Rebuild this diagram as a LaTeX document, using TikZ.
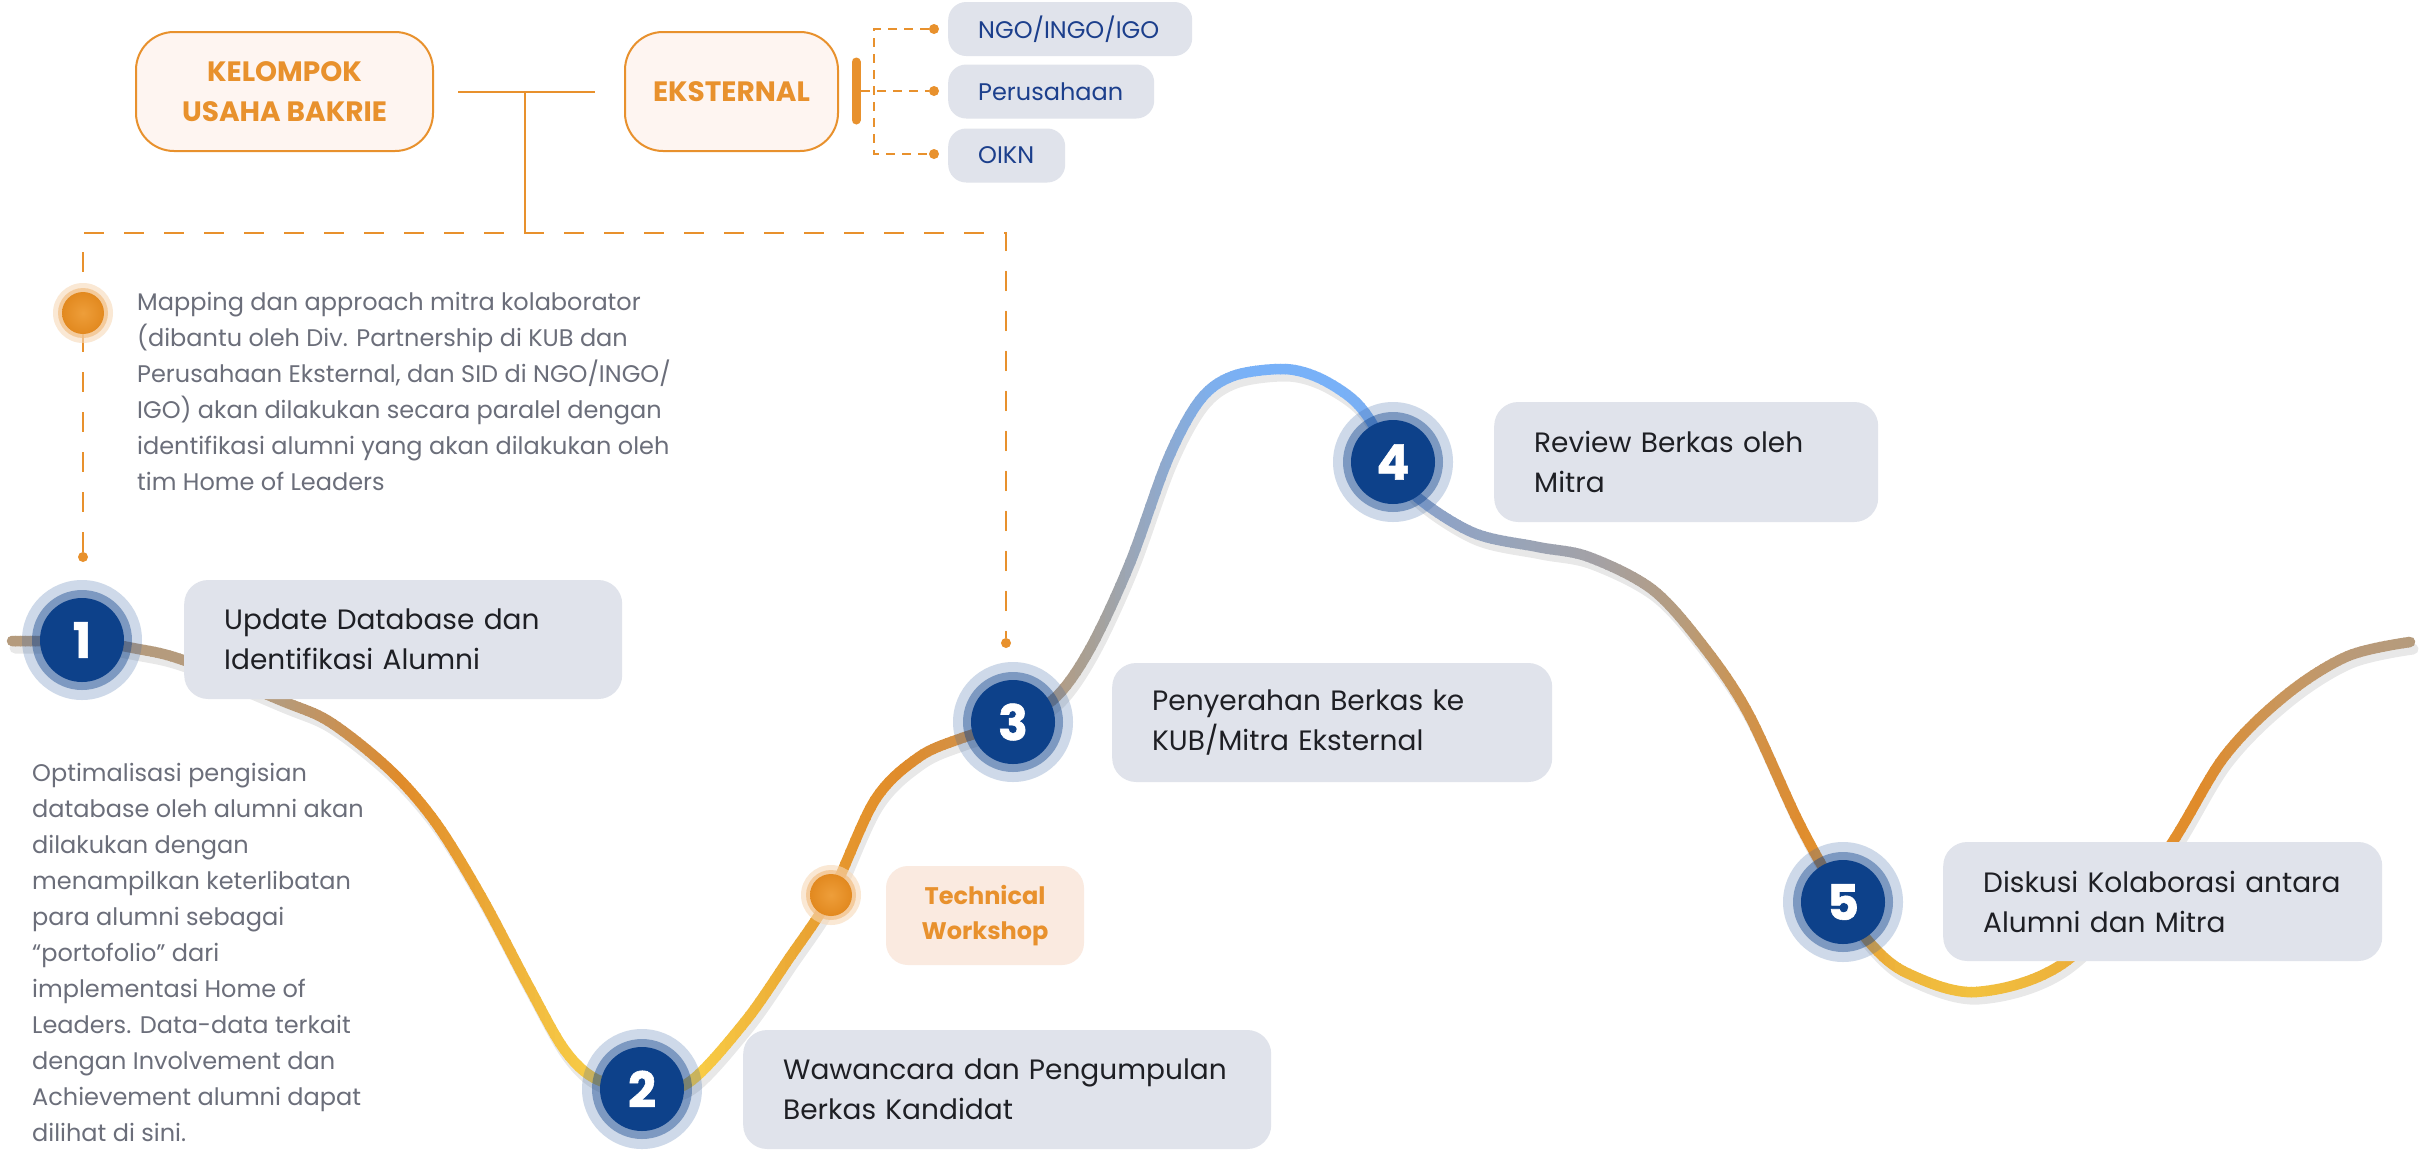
\documentclass[tikz,border=0pt]{standalone}
\usepackage{fontspec}
\setmainfont{Poppins}
\usepackage{graphicx}
\definecolor{org}{HTML}{E8912D}
\definecolor{kubfill}{HTML}{FEF5F1}
\definecolor{wsfill}{HTML}{FAEAE0}
\definecolor{pillfill}{HTML}{E0E3EB}
\definecolor{pilltext}{HTML}{1C3F8C}
\definecolor{graytxt}{HTML}{6B6E7A}
\definecolor{steptxt}{HTML}{1E1F24}
\definecolor{navy}{HTML}{0D418A}
\definecolor{halob}{HTML}{3F6AA8}
\definecolor{ohalo}{HTML}{F7D9B8}
\definecolor{oring}{HTML}{F2BF85}
\definecolor{ocoreA}{HTML}{EE9E3A}
\definecolor{ocoreB}{HTML}{E2891F}
% curve colour stops
\definecolor{s0}{HTML}{B59B7D}\definecolor{s1}{HTML}{B59B7D}\definecolor{s2}{HTML}{C5925A}
\definecolor{s3}{HTML}{E08B2A}\definecolor{s4}{HTML}{E9A233}\definecolor{s5}{HTML}{F5C543}
\definecolor{s6}{HTML}{FAD249}\definecolor{s7}{HTML}{F8CC45}\definecolor{s8}{HTML}{EDAE37}
\definecolor{s9}{HTML}{E6982E}\definecolor{s10}{HTML}{E08B2A}\definecolor{s11}{HTML}{D39146}
\definecolor{s12}{HTML}{C9965C}\definecolor{s13}{HTML}{B89B7C}\definecolor{s14}{HTML}{A8A095}
\definecolor{s15}{HTML}{9BA6B6}\definecolor{s16}{HTML}{8CAAD2}\definecolor{s17}{HTML}{7EAFEC}
\definecolor{s18}{HTML}{78B1F8}\definecolor{s19}{HTML}{78B1F8}\definecolor{s20}{HTML}{7FADEB}
\definecolor{s21}{HTML}{8DA3C8}\definecolor{s22}{HTML}{99A4B8}\definecolor{s23}{HTML}{A4A1A4}
\definecolor{s24}{HTML}{B69C7E}\definecolor{s25}{HTML}{CC9452}\definecolor{s26}{HTML}{DF8C2E}
\definecolor{s27}{HTML}{E6982F}\definecolor{s28}{HTML}{EEB63C}\definecolor{s29}{HTML}{F2C13F}
\definecolor{s30}{HTML}{EDB23B}\definecolor{s31}{HTML}{E39230}\definecolor{s32}{HTML}{E08B2A}
\definecolor{s33}{HTML}{C9965C}\definecolor{s34}{HTML}{B99A78}\definecolor{s35}{HTML}{B59B7D}
\tikzset{
  curveline/.style={line width=10.5pt, line cap=round},
  shadowline/.style={line width=11pt, line cap=round, black, opacity=0.09, transform canvas={shift={(3pt,-7pt)}}},
  orgline/.style={draw=org, line width=2pt},
  bigdash/.style={draw=org, line width=2pt, dash pattern=on 20pt off 20pt},
  smalldash/.style={draw=org, line width=2pt, dash pattern=on 9pt off 7pt},
  enddot/.style={circle, fill=org, minimum size=10pt, inner sep=0pt},
  kubbox/.style={draw=org, line width=2pt, fill=kubfill, rounded corners=38pt, minimum width=297pt, minimum height=119pt, align=center, text=org, font=\fontsize{28}{40}\selectfont\bfseries, inner sep=0pt},
  pill/.style={fill=pillfill, rounded corners=18pt, minimum height=54pt, inner xsep=30pt, inner ysep=0pt, text=pilltext, font=\fontsize{24}{30}\selectfont, anchor=west},
  stepbox/.style={fill=pillfill, rounded corners=24pt, minimum height=119pt, inner xsep=40pt, inner ysep=0pt, align=left, text=steptxt, font=\fontsize{28}{40}\selectfont},
  graytext/.style={text=graytxt, align=left, inner sep=0pt, anchor=west, font=\fontsize{24}{36}\selectfont},
  wsbox/.style={fill=wsfill, rounded corners=22pt, minimum width=198pt, minimum height=99pt, align=center, text=org, font=\fontsize{24}{35}\selectfont\bfseries, inner sep=0pt},
  halo/.style={fill=halob, opacity=0.25},
  ring/.style={fill=navy, opacity=0.42},
  numc/.style={circle, fill=navy, minimum size=84pt, inner sep=0pt, text=white, font=\fontsize{49}{49}\selectfont\bfseries\addfontfeature{FakeBold=1.2}},
  ohal/.style={fill=ohalo, opacity=0.6},
  orng/.style={fill=oring, opacity=0.7},
  ocore/.style={circle, inner color=ocoreA, outer color=ocoreB, minimum size=42pt, inner sep=0pt},
}
\newcommand\curveAll{plot[smooth,tension=0.55] coordinates {(12,641) (50,641) (c1) (133,648) (183,660) (280,700) (330,722) (390,770) (436,823) (482,898) (528,985) (564,1049) (596,1079) (c2) (688,1083) (744,1023) (788,960) (w) (875,800) (919,757) (962,738) (c3) (1056,697) (1091,647) (1130,563) (1168,459) (1200,400) (1233,376) (1283,369) (1317,377) (1350,397) (1370,420) (c4) (1417,497) (1474,533) (1538,547) (1589,557) (1653,590) (1704,647) (1748,713) (1799,823) (c5) (1870,943) (1907,973) (1976,992) (2065,962) (2160,860) (2224,757) (2286,695) (2348,656) (2410,642)}}
\begin{document}
\begin{tikzpicture}[x=1pt,y=-1pt]
\useasboundingbox (0,0) rectangle (2422,1152);
\fill[white] (0,0) rectangle (2422,1152);
% anchor points
\coordinate (c1) at (82,640);
\coordinate (c2) at (642,1089);
\coordinate (c3) at (1013,722);
\coordinate (c4) at (1393,462);
\coordinate (c5) at (1843,902);
\coordinate (w) at (831,895);
\coordinate (tdot) at (83,313);
% top group
\node[kubbox] (kub) at (284.5,91.5) {KELOMPOK\\USAHA BAKRIE};
\node[kubbox, minimum width=213pt] (ext) at (731.5,91.5) {EKSTERNAL};
\draw[orgline, shorten <=24pt, shorten >=29pt] (kub) -- (ext);
\coordinate (j) at (525,91.5);
\coordinate (jb) at (525,233);
\draw[orgline] (j) -- (jb);
\coordinate (tl) at (83,233);
\coordinate (tr) at (1006,233);
\node[enddot] (dl) at (83,557) {};
\node[enddot] (dr) at (1006,643) {};
\draw[bigdash] (dl) -- (tl) -- (tr) -- (dr);
% bracket to partners
\draw[org, line width=9pt, line cap=round] (856,62) -- (856,120);
\coordinate (b1) at (874,29);
\coordinate (b3) at (874,154);
\coordinate (bm) at (861,91);
\node[enddot] (d1) at (934,29) {};
\node[enddot] (d2) at (934,91) {};
\node[enddot] (d3) at (934,154) {};
\draw[smalldash] (d1) -- (b1) -- (b3) -- (d3);
\draw[smalldash] (bm) -- (d2);
\node[pill] (p1) at (948,29) {\makebox[184pt][l]{NGO/INGO/IGO}};
\node[pill] (p2) at (948,91.5) {\makebox[146pt][l]{Perusahaan}};
\node[pill] (p3) at (948,155.5) {\makebox[57pt][l]{OIKN}};
% top orange dot and text
\fill[ohal] (tdot) circle (30pt);
\fill[orng] (tdot) circle (25pt);
\node[ocore] (od1) at (tdot) {};
\node[graytext] (mapt) at (137,391) {Mapping dan approach mitra kolaborator\\(dibantu oleh Div. Partnership di KUB dan\\Perusahaan Eksternal, dan SID di NGO/INGO/\\IGO) akan dilakukan secara paralel dengan\\identifikasi alumni yang akan dilakukan oleh\\tim Home of Leaders};
\node[graytext] (optt) at (32,952) {Optimalisasi pengisian\\database oleh alumni akan\\dilakukan dengan\\menampilkan keterlibatan\\para alumni sebagai\\“portofolio” dari\\implementasi Home of\\Leaders. Data-data terkait\\dengan Involvement dan\\Achievement alumni dapat\\dilihat di sini.};
% curve shadow
\draw[shadowline] \curveAll;
% curve with colour running along it (vertical strips)
\foreach \xa/\ca/\xb/\cb in {5/s0/280/s1, 280/s1/330/s2, 330/s2/400/s3, 400/s3/470/s4, 470/s4/560/s5, 560/s5/642/s6, 642/s6/700/s7, 700/s7/780/s8, 780/s8/840/s9, 840/s9/900/s10, 900/s10/960/s11, 960/s11/1000/s12, 1000/s12/1040/s13, 1040/s13/1090/s14, 1090/s14/1130/s15, 1130/s15/1170/s16, 1170/s16/1210/s17, 1210/s17/1250/s18, 1250/s18/1340/s19, 1340/s19/1393/s20, 1393/s20/1430/s21, 1430/s21/1520/s22, 1520/s22/1600/s23, 1600/s23/1680/s24, 1680/s24/1740/s25, 1740/s25/1800/s26, 1800/s26/1843/s27, 1843/s27/1900/s28, 1900/s28/1976/s29, 1976/s29/2060/s30, 2060/s30/2150/s31, 2150/s31/2200/s32, 2200/s32/2280/s33, 2280/s33/2350/s34, 2350/s34/2418/s35}{
  \pgfmathtruncatemacro\nn{max(1,round((\xb-\xa)/5))}
  \foreach \k in {1,...,\nn}{
    \pgfmathsetmacro\xl{\xa+(\k-1)*(\xb-\xa)/\nn}
    \pgfmathsetmacro\xr{\xa+\k*(\xb-\xa)/\nn+0.8}
    \pgfmathtruncatemacro\pc{100*(\k-0.5)/\nn}
    \begin{scope}
      \clip (\xl,0) rectangle (\xr,1152);
      \draw[curveline, draw=\cb!\pc!\ca] \curveAll;
    \end{scope}
  }
}
% workshop
\fill[ohal] (w) circle (30pt);
\fill[orng] (w) circle (25pt);
\node[ocore] (od2) at (w) {};
\node[wsbox] (ws) at (985,915.5) {Technical\\Workshop};
% step boxes
\node[stepbox, text width=358pt, anchor=west] (s1) at (184,639.5) {\mbox{Update Database dan}\\\mbox{Identifikasi Alumni}};
\node[stepbox, text width=448pt, anchor=west] (s2) at (743,1089.5) {\mbox{Wawancara dan Pengumpulan}\\\mbox{Berkas Kandidat}};
\node[stepbox, text width=360pt, anchor=west] (s3) at (1112,722.5) {\mbox{Penyerahan Berkas ke}\\\mbox{KUB/Mitra Eksternal}};
\node[stepbox, text width=304pt, anchor=west, minimum height=120pt] (s4) at (1494,462) {\mbox{Review Berkas oleh}\\\mbox{Mitra}};
\node[stepbox, text width=359pt, anchor=west] (s5) at (1943,901.5) {\mbox{Diskusi Kolaborasi antara}\\\mbox{Alumni dan Mitra}};
% numbered circles
\foreach \c/\n in {c1/1,c2/2,c3/3,c4/4,c5/5}{
  \fill[halo] (\c) circle (60pt);
  \fill[ring] (\c) circle (50pt);
  \node[numc] (n\n) at (\c) {\n};
}
\end{tikzpicture}
\end{document}
